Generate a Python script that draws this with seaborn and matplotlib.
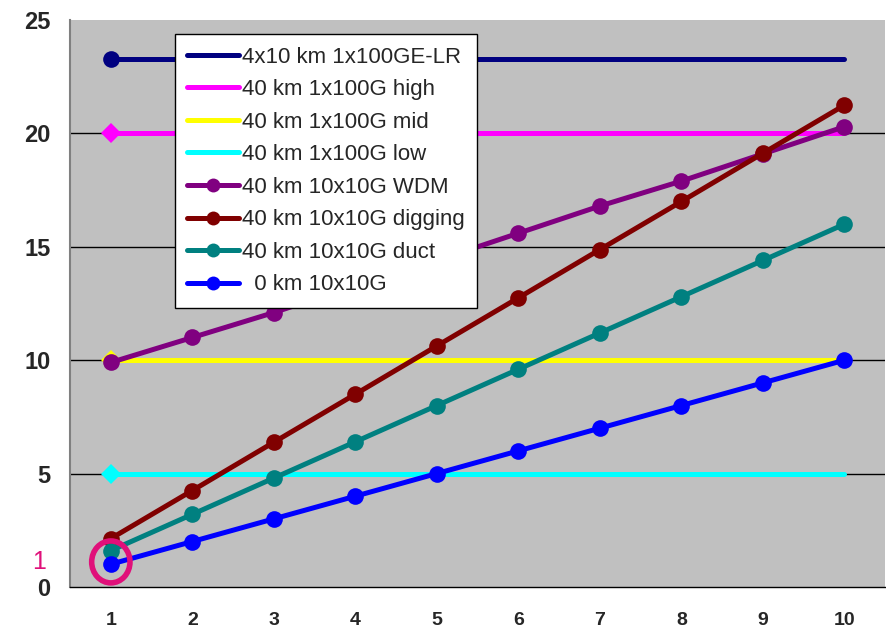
import matplotlib
matplotlib.use("Agg")
import matplotlib.pyplot as plt
from matplotlib.lines import Line2D
from matplotlib.patches import Ellipse
import seaborn as sns
import pandas as pd

# Number of links on the x axis
links = [1, 2, 3, 4, 5, 6, 7, 8, 9, 10]

# Relative cost per scenario
lr_4x10 = [23.3] * 10
g100_high = [20] * 10
g100_mid = [10] * 10
g100_low = [5] * 10
wdm_10x10 = [9.9, 11.0, 12.1, 13.3, 14.4, 15.6, 16.8, 17.9, 19.1, 20.3]
digging_10x10 = [2.13, 4.25, 6.38, 8.5, 10.63, 12.75, 14.88, 17.0, 19.13, 21.25]
duct_10x10 = [1.6, 3.2, 4.8, 6.4, 8.0, 9.6, 11.2, 12.8, 14.4, 16.0]
local_10x10 = [1, 2, 3, 4, 5, 6, 7, 8, 9, 10]

labels = ["4x10 km 1x100GE-LR", "40 km 1x100G high", "40 km 1x100G mid",
          "40 km 1x100G low", "40 km 10x10G WDM", "40 km 10x10G digging",
          "40 km 10x10G duct", "  0 km 10x10G"]
series = [lr_4x10, g100_high, g100_mid, g100_low,
          wdm_10x10, digging_10x10, duct_10x10, local_10x10]
colors = ["#000080", "#FF00FF", "#FFFF00", "#00FFFF",
          "#800080", "#800000", "#008080", "#0000FF"]
# flat lines carry a single marker at the first point
markers = ["o", "D", "D", "D", "o", "o", "o", "o"]
every = [[0], [0], [0], [0], None, None, None, None]

sns.set_style("white")
plt.rcParams["font.family"] = ["Liberation Sans", "DejaVu Sans"]

fig = plt.figure(figsize=(8.87, 6.29), dpi=100)
ax = fig.add_axes([0.079, 0.067, 0.919, 0.901])
ax.set_facecolor("#C0C0C0")

for lab, vals, col, mk, ev in zip(labels, series, colors, markers, every):
    df = pd.DataFrame({"x": links, "y": vals})
    sns.lineplot(data=df, x="x", y="y", ax=ax, color=col, linewidth=3.6,
                 marker=mk, markersize=12 if mk == "o" else 10.5,
                 markeredgewidth=0, markevery=ev, zorder=3, legend=False)

ax.set_xlim(0.5, 10.5)
ax.set_ylim(0, 25)
ax.set_yticks([0, 5, 10, 15, 20, 25])
ax.set_xticks(links)
ax.set_xticks([i + 0.5 for i in range(0, 11)], minor=True)
ax.tick_params(axis="x", which="major", length=0, pad=18, labelsize=14)
ax.tick_params(axis="x", which="minor", length=6, width=1, color="black",
               direction="out")
ax.tick_params(axis="y", length=6, width=1, color="black", direction="out",
               labelsize=17, pad=8)
for t in ax.get_xticklabels() + ax.get_yticklabels():
    t.set_fontweight("bold")
ax.set_xlabel("")
ax.set_ylabel("")

for yv in [5, 10, 15, 20]:
    ax.axhline(yv, color="#000000", linewidth=1, zorder=1)

for side in ["top", "right"]:
    ax.spines[side].set_visible(False)
ax.spines["left"].set_color("#808080")
ax.spines["left"].set_linewidth(1.5)
ax.spines["bottom"].set_color("#000000")
ax.spines["bottom"].set_linewidth(1)

# highlighted starting point
ax.add_patch(Ellipse((1, 1.1), 0.47, 1.85, fill=False, edgecolor="#E0107A",
                     linewidth=4, zorder=5, clip_on=False))
ax.text(-0.03, 1.1, "1", transform=ax.get_yaxis_transform(), color="#E0107A",
        fontsize=18, ha="right", va="center")

handles = []
for lab, col, mk in zip(labels, colors, markers):
    handles.append(Line2D([0], [0], color=col, linewidth=3.6,
                          marker="o" if mk == "o" and lab != labels[0] else None,
                          markersize=10, markeredgewidth=0))
leg = ax.legend(handles, labels, loc="upper left",
                bbox_to_anchor=(0.129, 0.975), frameon=True, fancybox=False,
                fontsize=16, handlelength=2.34, handletextpad=0.12,
                labelspacing=0.52, borderpad=0.55, borderaxespad=0)
leg.get_frame().set_edgecolor("black")
leg.get_frame().set_linewidth(1)
leg.get_frame().set_facecolor("white")
leg.get_frame().set_alpha(1)
leg.set_zorder(6)

fig.savefig("out.png", dpi=100)
